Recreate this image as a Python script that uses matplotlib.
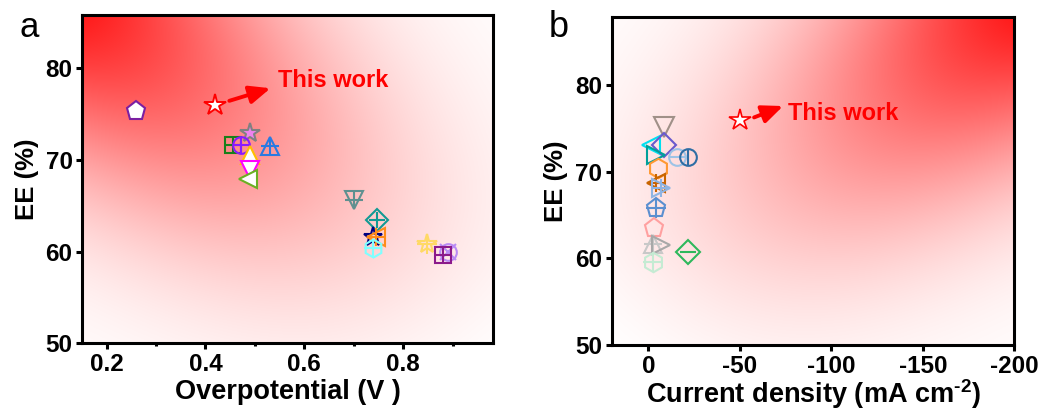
import numpy as np
import matplotlib.pyplot as plt

plt.rcParams['font.family'] = ['Liberation Sans', 'DejaVu Sans']
plt.rcParams['font.weight'] = 'bold'
plt.rcParams['axes.labelweight'] = 'bold'
plt.rcParams['axes.unicode_minus'] = False
plt.rcParams['mathtext.fontset'] = 'custom'
plt.rcParams['mathtext.rm'] = 'Liberation Sans:bold'
plt.rcParams['mathtext.bf'] = 'Liberation Sans:bold'
plt.rcParams['mathtext.default'] = 'rm'

# panel a: EE vs overpotential
this_eta, this_ee = 0.42, 76.0
eta = [0.26, 0.49, 0.456, 0.471, 0.530, 0.49, 0.49, 0.487,
       0.701, 0.746, 0.738, 0.745, 0.739, 0.849, 0.891, 0.881]
ee_a = [75.3, 72.9, 71.6, 71.6, 71.55, 70.5, 68.9, 67.9,
        65.6, 63.45, 61.6, 61.55, 60.4, 60.8, 60.0, 59.6]

# panel b: EE vs current density
this_j = -50
j = [-8.5, -1.5, -8.4, -4.2, -15.5, -21.5, -5.1, -4.2,
     -6.9, -4.2, -2.9, -2.4, -6.9, -21.5, -2.4]
ee_b = [75.2, 73.1, 73.1, 71.9, 71.7, 71.7, 70.4, 68.65,
        68.1, 65.8, 63.5, 61.7, 61.5, 60.76, 59.6]

# marker styles (one per literature point)
mk_a = ['p', '*', 's', 'o', '^', '^', 'v', '<', 'v', 'D', '*', '<', 'h', '*', 'o', 's']
col_a = ['#7b1fa2', '#808080', '#1a7f1a', '#8a1aff', '#2a7ae2', '#ffc000', '#ff00ff', '#6ab023',
         '#5f9090', '#129a94', '#000080', '#ff8c1a', '#7fffff', '#ffd966', '#b98af5', '#8b1a8b']
face_a = ['white', '#ee82ee', 'none', 'none', 'none', 'white', 'white', 'white',
          'none', 'none', 'none', 'none', 'none', 'none', 'none', 'none']
inner_a = [None, None, '+', '+', '+', None, None, None, '+', '+', None, '+', '+', '+', 'x', '+']
size_a = [14, 15, 11, 12, 13, 13, 13, 13, 13, 11, 14, 13, 13, 15, 12, 11]

mk_b = ['v', '<', 'D', '>', 'o', 'o', 'h', '<', '>', 'p', 'p', '^', '>', 'D', 'h']
col_b = ['#a09088', '#00e0f0', '#6a5acd', '#00a09a', '#9dc3e6', '#2e6da4', '#ff9933', '#c86400',
         '#8eb4e3', '#5b8fd0', '#ffa0a0', '#c8c8c8', '#a8a8a8', '#2eb85c', '#c5ebd3']
inner_b = [None, None, None, None, '_', '|', None, '+', '+', '+', None, '+', None, '_', '+']
size_b = [14, 13, 12, 13, 12, 12, 14, 13, 13, 14, 14, 13, 13, 12, 14]


def glow(ax, corner, direction, length, width, power):
    u, v = np.meshgrid(np.linspace(0, 1, 400), np.linspace(0, 1, 400))
    d = np.array(direction) / np.hypot(*direction)
    du, dv = u - corner[0], v - corner[1]
    t = du * d[0] + dv * d[1]
    p = -du * d[1] + dv * d[0]
    inten = np.clip(1 - t / length, 0, 1) ** power * np.exp(-(p / width) ** 2)
    img = np.ones((400, 400, 3))
    img[..., 1] = 1 - 0.9 * inten
    img[..., 2] = 1 - 0.9 * inten
    ax.imshow(img, extent=(0, 1, 0, 1), transform=ax.transAxes, origin='lower',
              aspect='auto', zorder=0, interpolation='bilinear')


def style(ax):
    for s in ax.spines.values():
        s.set_linewidth(2.2)
    ax.tick_params(which='major', direction='out', length=4, width=2.2, labelsize=17.5, pad=3)
    ax.tick_params(which='minor', direction='out', length=2.5, width=2.2)
    ax.set_yticks([50, 60, 70, 80])
    ax.set_ylabel('EE (%)', fontsize=18.5, labelpad=5)


fig = plt.figure(figsize=(10.51, 4.12), dpi=100)
ax1 = fig.add_axes([0.0783, 0.1667, 0.3905, 0.797])
ax2 = fig.add_axes([0.582, 0.1626, 0.3831, 0.797])

# ---- a ----
glow(ax1, (0, 1), (0.8, -0.85), 1.5, 0.42, 1.5)
for x, y, m, c, f, i, s in zip(eta, ee_a, mk_a, col_a, face_a, inner_a, size_a):
    ax1.plot(x, y, marker=m, ms=s, mec=c, mfc=f, mew=1.5, ls='none', zorder=3)
    if i:
        ax1.plot(x, y, marker=i, ms=s, mec=c, mew=1.5, ls='none', zorder=3)
ax1.plot(this_eta, this_ee, marker='*', ms=16, mec='red', mfc='white', mew=1.4, zorder=4)
ax1.annotate('', xy=(0.537, 77.9), xytext=(0.443, 76.35),
             arrowprops=dict(arrowstyle='-|>,head_length=0.7,head_width=0.3', color='red',
                             lw=2.8, mutation_scale=18))
ax1.text(0.546, 78.7, 'This work', color='red', fontsize=17, va='center')
ax1.set_xlim(0.151, 0.981)
ax1.set_ylim(50, 85.8)
ax1.set_xticks([0.2, 0.4, 0.6, 0.8])
ax1.set_xticks([0.3, 0.5, 0.7, 0.9], minor=True)
style(ax1)
ax1.set_xlabel('Overpotential (V )', fontsize=19.5)
ax1.xaxis.set_label_coords(0.5, -0.108)
fig.text(0.028, 0.91, 'a', fontsize=25, fontweight='normal', ha='center', va='baseline')

# ---- b ----
glow(ax2, (1, 1), (-0.8, -0.8), 1.45, 0.41, 1.5)
for x, y, m, c, i, s in zip(j, ee_b, mk_b, col_b, inner_b, size_b):
    ax2.plot(x, y, marker=m, ms=s, mec=c, mfc='none', mew=1.5, ls='none', zorder=3)
    if i:
        ax2.plot(x, y, marker=i, ms=s, mec=c, mew=1.5, ls='none', zorder=3)
ax2.plot(this_j, this_ee, marker='*', ms=16, mec='red', mfc='white', mew=1.2, zorder=4)
ax2.annotate('', xy=(-75.1, 77.7), xytext=(-56.4, 76.15),
             arrowprops=dict(arrowstyle='-|>,head_length=0.7,head_width=0.3', color='red',
                             lw=2.8, mutation_scale=18))
ax2.text(-76.5, 76.7, 'This work', color='red', fontsize=17, va='center')
ax2.set_xlim(20, -200)
ax2.set_ylim(50, 87.9)
ax2.set_xticks([0, -50, -100, -150, -200])
style(ax2)
ax2.set_xlabel(r'Current density (mA cm$^{\text{-2}}$)', fontsize=19.5)
ax2.xaxis.set_label_coords(0.5, -0.097)
fig.text(0.532, 0.91, 'b', fontsize=26, fontweight='normal', ha='center', va='baseline')

fig.savefig('out.png', dpi=100)
